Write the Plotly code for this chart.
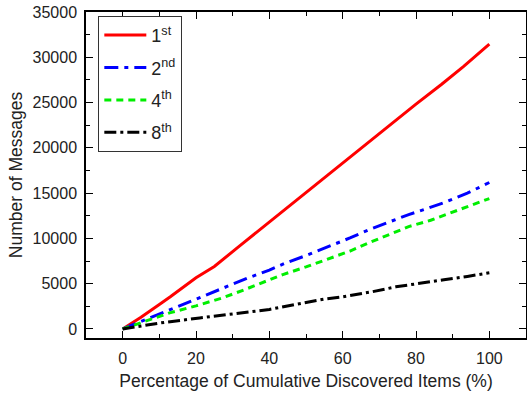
import plotly.graph_objects as go

# Percentage of cumulative discovered items (%) and number of messages
x_1st = [0, 5, 10, 13, 20, 25, 32, 43.5, 50, 57, 64.5, 72, 80, 87, 93, 100]
y_1st = [0, 1300, 2700, 3550, 5650, 6900, 9200, 12960, 15080, 17300, 19820, 22200, 24830, 27020, 29000, 31450]

x_2nd = [0, 3, 8, 15, 20, 25.5, 34, 40, 44.6, 50, 56.3, 62, 67.2, 72, 78, 83, 88.4, 94, 100]
y_2nd = [0, 500, 1330, 2440, 3300, 4200, 5600, 6500, 7310, 8100, 9080, 10050, 10960, 11700, 12630, 13300, 14060, 15000, 16170]

x_4th = [0, 4.6, 12.8, 20, 27, 33, 43.5, 50, 55.5, 62, 67.2, 72, 78, 84, 89.8, 95, 100]
y_4th = [0, 660, 1770, 2550, 3400, 4300, 5980, 6850, 7640, 8600, 9520, 10300, 11300, 12000, 12850, 13600, 14400]

x_8th = [0, 4.6, 10, 21, 28, 34, 40, 47, 55, 60, 68, 74.5, 81, 87.6, 94, 100]
y_8th = [0, 330, 650, 1220, 1550, 1880, 2150, 2700, 3300, 3550, 4100, 4650, 5000, 5430, 5800, 6200]

names = ["1<sup>st</sup>", "2<sup>nd</sup>", "4<sup>th</sup>", "8<sup>th</sup>"]
colors = ["#ff0000", "#0000ff", "#00ee00", "#000000"]
dashes = ["solid", "14px,6px,4px,6px", "7px,5px", "12px,4px,3px,4px"]

series = [(x_1st, y_1st), (x_2nd, y_2nd), (x_4th, y_4th), (x_8th, y_8th)]

fig = go.Figure()
for i, ((xs, ys), nm, c, d) in enumerate(zip(series, names, colors, dashes)):
    fig.add_trace(go.Scatter(
        x=xs, y=ys, mode="lines", name=nm, legendgroup=f"g{i}",
        line=dict(color=c, width=3, dash=d),
    ))

font_family = "Liberation Sans, Arial, sans-serif"
axis_common = dict(
    showline=True, linecolor="black", linewidth=1.5, mirror="ticks",
    ticks="inside", ticklen=7, tickwidth=1.2, tickcolor="black",
    showgrid=False, zeroline=False, automargin=False, tickformat="d",
    tickfont=dict(family=font_family, size=16, color="#222"),
)

fig.update_xaxes(
    range=[-10, 110], dtick=20, tick0=0, ticklabelstandoff=5,
    minor=dict(dtick=10, ticks="inside", ticklen=4, tickcolor="black", tickwidth=1.2),
    title=dict(text="Percentage of Cumulative Discovered Items (%)",
               font=dict(family=font_family, size=17.5, color="#222"), standoff=9),
    **axis_common,
)
fig.update_yaxes(
    range=[-1000, 35000], dtick=5000, tick0=0, ticklabelstandoff=4,
    minor=dict(dtick=2500, ticks="inside", ticklen=4, tickcolor="black", tickwidth=1.2),
    title=dict(text="Number of Messages",
               font=dict(family=font_family, size=17.5, color="#222"), standoff=5),
    **axis_common,
)

fig.update_layout(
    width=527, height=394,
    margin=dict(l=86, r=1, t=12, b=56),
    paper_bgcolor="white", plot_bgcolor="white",
    font=dict(family=font_family, color="#222"),
    showlegend=True,
    legend=dict(
        x=0.028, y=0.988, xanchor="left", yanchor="top",
        bgcolor="white", bordercolor="#333", borderwidth=1,
        font=dict(family=font_family, size=18, color="#222"),
        tracegroupgap=6, itemwidth=42,
    ),
)

fig.write_html(
    "out.html",
    config={"displayModeBar": False},
    post_script="document.body.style.margin='0';document.body.style.overflow='hidden';",
)
